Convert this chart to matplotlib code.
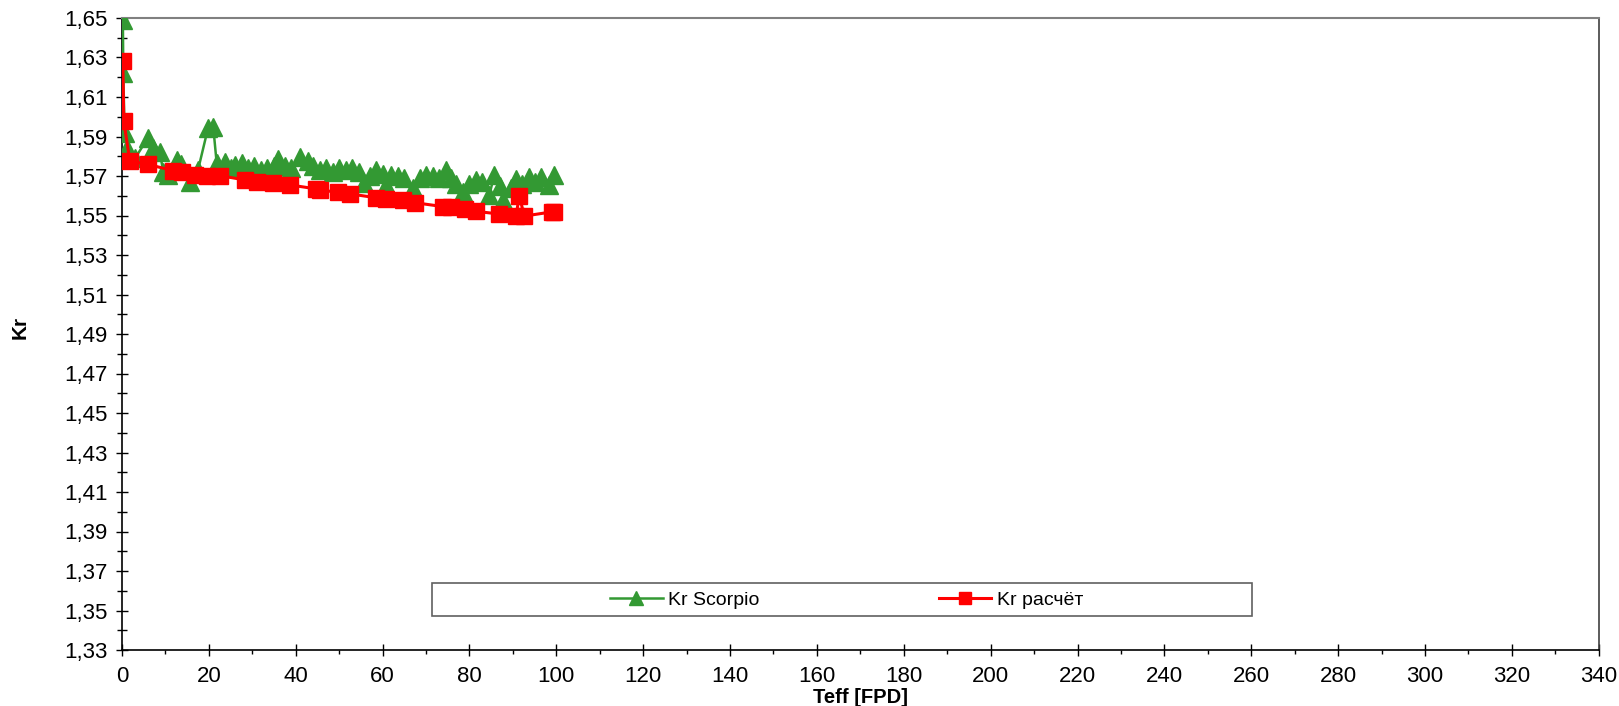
import matplotlib
matplotlib.use("Agg")
import matplotlib.pyplot as plt
from matplotlib.ticker import MultipleLocator, FuncFormatter
from matplotlib.patches import Rectangle

plt.rcParams['font.family'] = ['Liberation Sans', 'DejaVu Sans']

# Kr Scorpio (green triangles)
teff_scorpio = [0.2, 0.3, 0.6, 1.2, 1.8, 3.0, 5.9, 7.2, 8.7, 9.5, 10.7, 12.6, 13.5, 15.6,
                17.5, 19.8, 21.0, 21.8, 23.7, 25.0, 26.0, 27.7, 29.0, 30.5, 32.0, 33.5,
                35.0, 36.0, 37.5, 39.0, 40.9, 42.8, 44.0, 45.5, 47.0, 48.5, 50.0, 51.5,
                53.0, 54.5, 55.8, 57.0, 58.5, 60.0, 60.8, 62.0, 63.5, 65.0, 67.0, 68.5,
                70.0, 71.5, 73.0, 74.6, 75.8, 77.0, 78.5, 80.0, 81.5, 83.0, 84.6, 85.7,
                87.0, 87.7, 89.5, 90.7, 92.0, 93.8, 95.0, 96.5, 98.4, 99.5]
kr_scorpio = [1.649, 1.622, 1.592, 1.584, 1.580, 1.579, 1.589, 1.584, 1.5823, 1.572, 1.5705,
              1.578, 1.576, 1.5671, 1.573, 1.5942, 1.595, 1.5765, 1.5773, 1.574, 1.5756,
              1.5767, 1.574, 1.575, 1.573, 1.574, 1.575, 1.5787, 1.575, 1.574, 1.5796,
              1.5774, 1.575, 1.573, 1.574, 1.572, 1.574, 1.573, 1.574, 1.572, 1.5664,
              1.570, 1.5732, 1.571, 1.5655, 1.5707, 1.570, 1.569, 1.564, 1.569, 1.5705,
              1.570, 1.569, 1.5732, 1.569, 1.566, 1.562, 1.566, 1.568, 1.567, 1.5604,
              1.5705, 1.565, 1.5578, 1.564, 1.5685, 1.566, 1.5695, 1.567, 1.5695,
              1.5655, 1.5707]

# Kr calculated (red squares)
teff_calc = [0.2, 0.4, 1.8, 5.9, 11.8, 13.9, 16.8, 19.5, 22.5, 28.3, 31.0, 34.8, 38.6,
             44.6, 45.6, 49.7, 52.6, 58.5, 60.8, 64.7, 67.4, 73.9, 75.8, 78.9, 81.5,
             86.7, 90.7, 91.5, 92.6, 98.9, 99.5]
kr_calc = [1.628, 1.598, 1.5776, 1.5759, 1.5727, 1.5722, 1.5705, 1.5702, 1.5702, 1.568,
           1.5671, 1.5663, 1.5655, 1.5635, 1.5630, 1.5617, 1.5609, 1.5590, 1.5585, 1.5579,
           1.5565, 1.5545, 1.5541, 1.5531, 1.5521, 1.5508, 1.5497, 1.5600, 1.5497,
           1.5518, 1.5520]

label_scorpio = "Kr Scorpio"
label_calc = "Kr расчёт"
x_label = "Teff [FPD]"
y_label = "Kr"

fig = plt.figure(figsize=(16.19, 7.06), dpi=100)
ax = fig.add_axes([122 / 1619, 56 / 706, (1598.7 - 122) / 1619, (650 - 18) / 706])

green = "#339933"
red = "#FF0000"
l1, = ax.plot(teff_scorpio, kr_scorpio, color=green, lw=1.8, marker='^', ms=13.5,
              mec=green, mfc=green, label=label_scorpio, zorder=3)
l2, = ax.plot(teff_calc, kr_calc, color=red, lw=2.2, marker='s', ms=12,
              mec=red, mfc=red, label=label_calc, zorder=4)

ax.set_xlim(0, 340)
ax.set_ylim(1.33, 1.65)
ax.xaxis.set_major_locator(MultipleLocator(20))
ax.xaxis.set_minor_locator(MultipleLocator(10))
ax.yaxis.set_major_locator(MultipleLocator(0.02, offset=0.01))
ax.yaxis.set_minor_locator(MultipleLocator(0.01))
ax.yaxis.set_major_formatter(FuncFormatter(lambda v, p: f"{v:.2f}".replace('.', ',')))
ax.xaxis.set_major_formatter(FuncFormatter(lambda v, p: f"{v:.0f}"))

ax.tick_params(axis='both', which='major', direction='inout', length=8.6, width=1,
               labelsize=16, colors='black')
ax.tick_params(axis='y', which='minor', direction='inout', length=6.5, width=1)
ax.tick_params(axis='x', which='minor', direction='out', length=3, width=1)
ax.tick_params(axis='y', which='major', pad=6)
ax.tick_params(axis='x', which='major', pad=7.5)

for s in ['left', 'bottom']:
    ax.spines[s].set_color('black')
    ax.spines[s].set_linewidth(1.2)
ax.spines['top'].set_color('#808080')
ax.spines['top'].set_linewidth(1.5)
ax.spines['right'].set_color('#404040')
ax.spines['right'].set_linewidth(1.2)

ax.set_xlabel(x_label, fontsize=14.5, fontweight='bold')
ax.set_ylabel(y_label, fontsize=15, fontweight='bold')
ax.xaxis.label.set_verticalalignment('center')
ax.xaxis.set_label_coords(0.5, -0.0745)
ax.yaxis.set_label_coords(-0.0625, 0.51)

# legend frame
fig.patches.append(Rectangle((431.7 / 1619, (706 - 616) / 706), (1252.4 - 431.7) / 1619,
                             33.3 / 706, transform=fig.transFigure, fill=False,
                             edgecolor='#606060', lw=1.2))
leg = fig.legend(handles=[l1, l2], loc='center left',
                 bbox_to_anchor=(610 / 1619, (706 - 600) / 706), ncol=2, frameon=False,
                 fontsize=14, handlelength=2.7, handletextpad=0.27, columnspacing=9.25,
                 borderpad=0, borderaxespad=0, markerscale=0.7)

fig.savefig("out.png", dpi=100)
